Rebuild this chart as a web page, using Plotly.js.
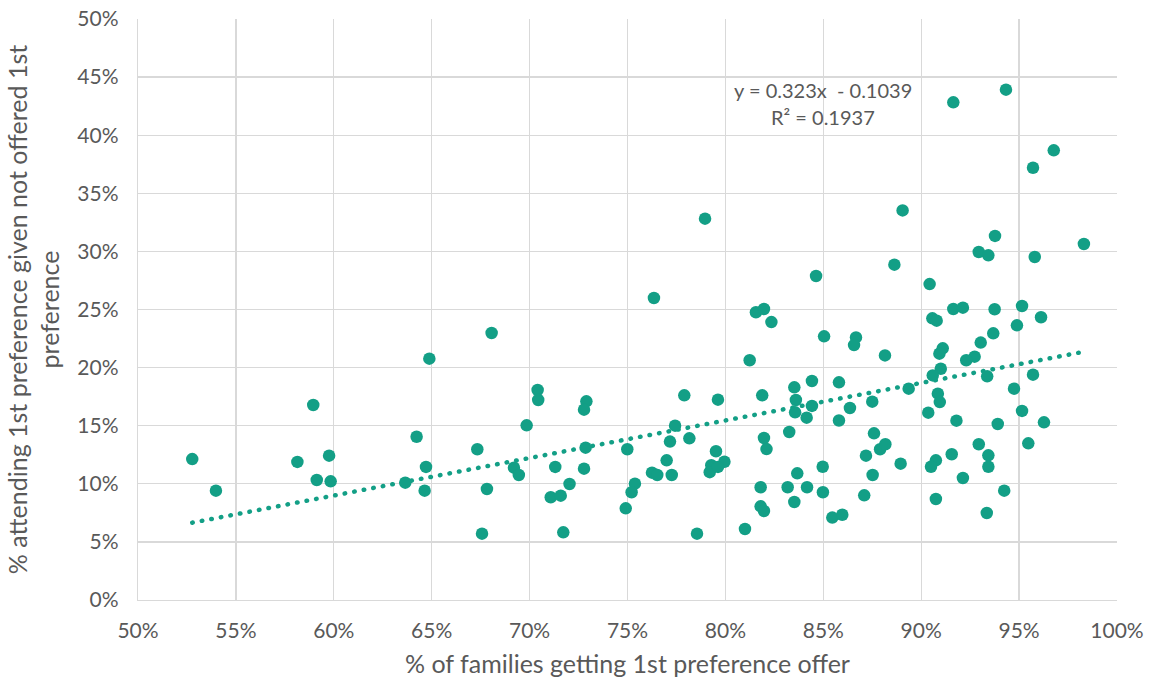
<!DOCTYPE html>
<html>
<head>
<meta charset="utf-8">
<script src="https://cdn.plot.ly/plotly-3.0.1.min.js"></script>
<style>
  html, body { margin: 0; padding: 0; background: #ffffff; }
  #chart { width: 1153px; height: 684px; }
  /* round caps turn the short dashes of the trendline into dots */
  .scatterlayer .js-line { stroke-linecap: round !important; }
</style>
</head>
<body>
<div id="chart"></div>
<script>
// Share of families getting their 1st preference offer (per area)
const offerRate = [
  0.5277, 0.5398, 0.5895, 0.5814, 0.5976, 0.5913, 0.5984, 0.6488, 0.6423, 0.6471, 0.6365, 0.6464,
  0.6806, 0.7041, 0.7044, 0.7290, 0.7278, 0.6985, 0.6733, 0.7286, 0.6920, 0.6945, 0.7131, 0.7278,
  0.6782, 0.7204, 0.7108, 0.7159, 0.6757, 0.7172,
  0.7499, 0.7538, 0.7521, 0.7491, 0.7625, 0.7652, 0.7726, 0.7700, 0.7717, 0.7743, 0.7816, 0.7790,
  0.7962, 0.7855, 0.7635, 0.7896,
  0.7952, 0.7995, 0.7928, 0.7920, 0.7962,
  0.8124, 0.8156, 0.8197, 0.8235, 0.8188, 0.8197, 0.8210, 0.8180, 0.8180, 0.8197, 0.8100,
  0.8463, 0.8504, 0.8667, 0.8657, 0.8815, 0.8863, 0.8905, 0.8352, 0.8442, 0.8580, 0.8360, 0.8442,
  0.8356, 0.8415, 0.8636, 0.8750, 0.8580, 0.8326, 0.8367, 0.8497, 0.8759, 0.8718, 0.8790, 0.8817,
  0.8895, 0.8752, 0.8709, 0.8318, 0.8417, 0.8352, 0.8498, 0.8546, 0.8597, 0.8936,
  0.9164, 0.9433, 0.9677, 0.9571, 0.9377, 0.9294, 0.9343, 0.9580, 0.9831, 0.9043, 0.9057, 0.9079,
  0.9164, 0.9213, 0.9375, 0.9515, 0.9612, 0.9489, 0.9368, 0.9304, 0.9110, 0.9093, 0.9273, 0.9230,
  0.9100, 0.9059, 0.9337, 0.9571, 0.9474, 0.9085, 0.9095, 0.9036, 0.9180, 0.9515, 0.9391, 0.9627,
  0.9294, 0.9547, 0.9156, 0.9343, 0.9075, 0.9050, 0.9343, 0.9213, 0.9424, 0.9075, 0.9335
];

// Share attending their 1st preference school despite not being offered it
const attendRate = [
  0.1213, 0.0941, 0.1678, 0.1188, 0.1242, 0.1033, 0.1021, 0.2077, 0.1405, 0.1145, 0.1010, 0.0941,
  0.2298, 0.1807, 0.1721, 0.1710, 0.1638, 0.1503, 0.1297, 0.1311, 0.1139, 0.1076, 0.1145, 0.1130,
  0.0955, 0.0998, 0.0884, 0.0898, 0.0571, 0.0582,
  0.1297, 0.1001, 0.0927, 0.0789, 0.1096, 0.1076, 0.1076, 0.1202, 0.1363, 0.1500, 0.1391, 0.1761,
  0.1724, 0.0571, 0.2599, 0.3282,
  0.1280, 0.1190, 0.1160, 0.1100, 0.1145,
  0.2063, 0.2476, 0.2504, 0.2392, 0.1761, 0.1394, 0.1299, 0.0970, 0.0806, 0.0766, 0.0611,
  0.2788, 0.2269, 0.2260, 0.2194, 0.2105, 0.2886, 0.3353, 0.1830, 0.1885, 0.1873, 0.1721, 0.1670,
  0.1615, 0.1569, 0.1652, 0.1707, 0.1545, 0.1446, 0.1090, 0.1147, 0.1434, 0.1242, 0.1297, 0.1340,
  0.1173, 0.1076, 0.0901, 0.0970, 0.0970, 0.0843, 0.0927, 0.0709, 0.0734, 0.1819,
  0.4283, 0.4392, 0.3870, 0.3720, 0.3133, 0.2995, 0.2966, 0.2952, 0.3064, 0.2719, 0.2424, 0.2404,
  0.2504, 0.2516, 0.2502, 0.2530, 0.2433, 0.2364, 0.2295, 0.2215, 0.2166, 0.2120, 0.2094, 0.2063,
  0.1990, 0.1933, 0.1925, 0.1939, 0.1819, 0.1776, 0.1703, 0.1612, 0.1543, 0.1627, 0.1515, 0.1529,
  0.1340, 0.1348, 0.1254, 0.1245, 0.1202, 0.1147, 0.1147, 0.1050, 0.0941, 0.0869, 0.0749
];

// Linear trendline (least squares) as reported on the chart
const trendSlope = 0.323;
const trendIntercept = -0.1039;
const trendR2 = 0.1937;

const xTickValues = [0.50, 0.55, 0.60, 0.65, 0.70, 0.75, 0.80, 0.85, 0.90, 0.95, 1.00];
const yTickValues = [0.00, 0.05, 0.10, 0.15, 0.20, 0.25, 0.30, 0.35, 0.40, 0.45, 0.50];

const teal = '#139f86';
const grid = '#d9d9d9';
const textGrey = '#595959';
const fontFamily = 'Lato, "Open Sans", "Liberation Sans", sans-serif';

const xMin = Math.min(...offerRate);
const xMax = Math.max(...offerRate);
const trendX = [xMin, xMax];
const trendY = trendX.map(v => trendSlope * v + trendIntercept);

const pointsTrace = {
  type: 'scatter',
  mode: 'markers',
  x: offerRate,
  y: attendRate,
  marker: { color: teal, size: 12.5, line: { width: 0 } },
  hoverinfo: 'x+y',
  showlegend: false
};

const trendTrace = {
  type: 'scatter',
  mode: 'lines',
  x: trendX,
  y: trendY,
  line: { color: teal, width: 4.5, dash: '0.5px,9.2px' },
  hoverinfo: 'skip',
  showlegend: false
};

const layout = {
  width: 1153,
  height: 684,
  margin: { l: 138, r: 36, t: 19, b: 84 },
  paper_bgcolor: '#ffffff',
  plot_bgcolor: '#ffffff',
  font: { family: fontFamily, color: textGrey, size: 21 },
  xaxis: {
    range: [0.5, 1.0],
    tickvals: xTickValues,
    tickformat: '.0%',
    showgrid: true,
    gridcolor: grid,
    gridwidth: 1.3,
    showline: true,
    linecolor: grid,
    linewidth: 1.3,
    zeroline: false,
    ticks: '',
    ticklabelstandoff: 11,
    tickfont: { size: 21, color: textGrey, family: fontFamily },
    title: {
      text: '% of families getting 1st preference offer',
      font: { size: 25, color: textGrey, family: fontFamily },
      standoff: 15
    }
  },
  yaxis: {
    range: [0, 0.5],
    tickvals: yTickValues,
    tickformat: '.0%',
    showgrid: true,
    gridcolor: grid,
    gridwidth: 1.3,
    showline: true,
    linecolor: grid,
    linewidth: 1.3,
    zeroline: false,
    ticks: '',
    ticklabelstandoff: 14,
    tickfont: { size: 21, color: textGrey, family: fontFamily },
    title: {
      text: '% attending 1st preference given not offered 1st<br>preference',
      font: { size: 25, color: textGrey, family: fontFamily },
      standoff: 10
    }
  },
  annotations: [
    {
      xref: 'x', yref: 'y',
      x: 0.85, y: 0.439,
      text: 'y = ' + trendSlope.toFixed(3) + 'x  - ' + Math.abs(trendIntercept).toFixed(4),
      showarrow: false,
      xanchor: 'center', yanchor: 'middle',
      font: { size: 20, color: textGrey, family: fontFamily }
    },
    {
      xref: 'x', yref: 'y',
      x: 0.85, y: 0.4157,
      text: 'R² = ' + trendR2.toFixed(4),
      showarrow: false,
      xanchor: 'center', yanchor: 'middle',
      font: { size: 20, color: textGrey, family: fontFamily }
    }
  ]
};

Plotly.newPlot('chart', [trendTrace, pointsTrace], layout, { displayModeBar: false, staticPlot: true });
</script>
</body>
</html>
